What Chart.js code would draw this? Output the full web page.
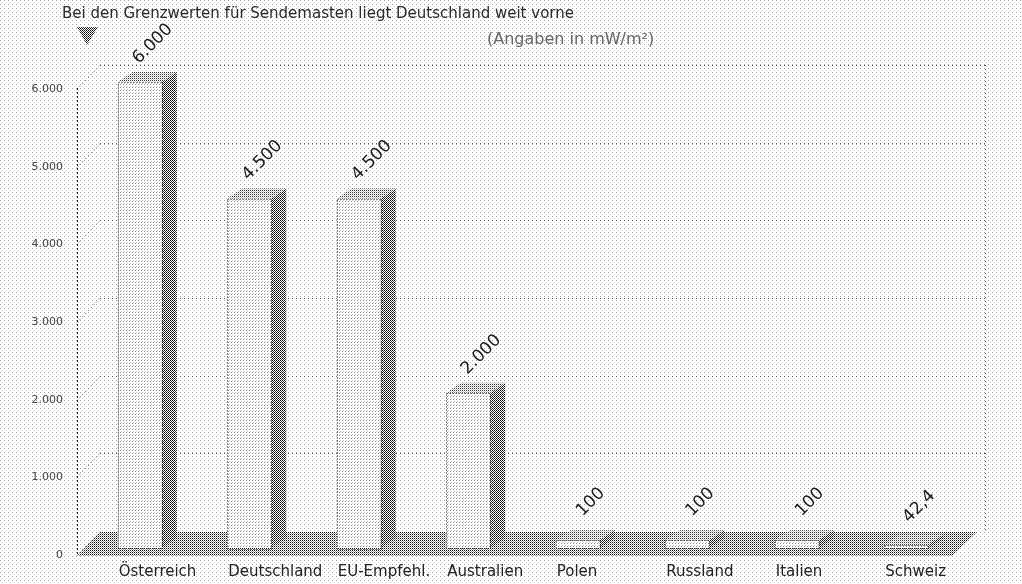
<!DOCTYPE html>
<html>
<head>
<meta charset="utf-8">
<script src="https://cdn.jsdelivr.net/npm/chart.js@4"></script>
<style>
  html, body { margin: 0; padding: 0; background: #fff; }
  canvas { display: block; }
</style>
</head>
<body>
<canvas id="chart" width="1022" height="584"></canvas>
<script>
const categories = ['Österreich', 'Deutschland', 'EU-Empfehl.', 'Australien', 'Polen', 'Russland', 'Italien', 'Schweiz'];
const limits = [6000, 4500, 4500, 2000, 100, 100, 100, 42.4];
const valueLabels = ['6.000', '4.500', '4.500', '2.000', '100', '100', '100', '42,4'];
const yTickLabels = ['0', '1.000', '2.000', '3.000', '4.000', '5.000', '6.000'];
const chartTitle = 'Bei den Grenzwerten für Sendemasten liegt Deutschland weit vorne';
const unitNote = '(Angaben in mW/m²)';

const canvas = document.getElementById('chart');
const mainCtx = canvas.getContext('2d');

// small halftone tiles, to mimic the dithered print look
function makePattern(size, bg, dots) {
  const c = document.createElement('canvas');
  c.width = size; c.height = size;
  const g = c.getContext('2d');
  g.fillStyle = bg;
  g.fillRect(0, 0, size, size);
  dots.forEach(([x, y, col]) => { g.fillStyle = col; g.fillRect(x, y, 1, 1); });
  return mainCtx.createPattern(c, 'repeat');
}

const pats = {
  paper: makePattern(4, '#ffffff', [[0, 0, '#a0a0a0'], [2, 2, '#d0d0d0']]),
  front: makePattern(3, '#ffffff', [[0, 0, '#8a8a8a'], [1, 2, '#c4c4c4']]),
  side: makePattern(2, '#ffffff', [[0, 0, '#000'], [1, 1, '#3a3a3a']]),
  cap: makePattern(2, '#ffffff', [[0, 0, '#333'], [1, 1, '#c8c8c8']]),
  floor: makePattern(2, '#ffffff', [[0, 0, '#111'], [1, 1, '#9a9a9a']])
};

const DX = 15, DY = 10;

const pseudo3d = {
  id: 'pseudo3d',
  beforeDraw(chart) {
    const { ctx, width, height } = chart;
    ctx.save();
    ctx.fillStyle = pats.paper;
    ctx.fillRect(0, 0, width, height);
    ctx.textBaseline = 'middle';
    ctx.textAlign = 'left';
    ctx.fillStyle = '#2a2a2a';
    ctx.font = '15px "DejaVu Sans"';
    ctx.fillText(chartTitle, 62, 14);
    ctx.fillStyle = '#666';
    ctx.font = '16px "DejaVu Sans"';
    ctx.fillText(unitNote, 487, 40);
    // little logo triangle
    ctx.fillStyle = pats.side;
    ctx.beginPath();
    ctx.moveTo(77, 27); ctx.lineTo(98, 27); ctx.lineTo(87, 45);
    ctx.closePath();
    ctx.fill();
    ctx.restore();
  },
  beforeDatasetsDraw(chart) {
    const { ctx, scales: { y } } = chart;
    const axisX = 77, wallX = 100, wallRight = 985, back = 17;
    const y0 = y.getPixelForValue(0);
    const yTop = y.getPixelForValue(6000);
    ctx.save();
    ctx.strokeStyle = '#555';
    ctx.lineWidth = 1;
    ctx.setLineDash([1, 3]);
    y.ticks.forEach(t => {
      const py = Math.round(y.getPixelForValue(t.value)) + 0.5;
      if (t.value > 0) {
        ctx.beginPath(); ctx.moveTo(wallX, py - back); ctx.lineTo(wallRight, py - back); ctx.stroke();
      }
      ctx.beginPath(); ctx.moveTo(axisX, py + 7); ctx.lineTo(wallX, py - back); ctx.stroke();
    });
    ctx.beginPath();
    ctx.moveTo(wallRight + 0.5, yTop - back);
    ctx.lineTo(wallRight + 0.5, y0 - back);
    ctx.stroke();

    // floor band
    ctx.fillStyle = pats.floor;
    ctx.beginPath();
    ctx.moveTo(axisX, y0 + 8);
    ctx.lineTo(wallX, y0 - back + 1);
    ctx.lineTo(977, y0 - back + 1);
    ctx.lineTo(952, y0 + 8);
    ctx.closePath();
    ctx.fill();

    // y axis
    ctx.strokeStyle = '#222';
    ctx.setLineDash([2, 2]);
    ctx.beginPath();
    ctx.moveTo(axisX + 0.5, yTop + 6);
    ctx.lineTo(axisX + 0.5, y0 + 8);
    ctx.stroke();
    ctx.restore();
  },
  afterDatasetsDraw(chart) {
    const { ctx } = chart;
    const meta = chart.getDatasetMeta(0);
    ctx.save();
    meta.data.forEach((bar, i) => {
      const { x, y, base, width } = bar.getProps(['x', 'y', 'base', 'width'], true);
      const l = x - width / 2, r = x + width / 2;
      ctx.setLineDash([]);
      ctx.fillStyle = pats.front;
      ctx.fillRect(l, y, width, base - y);
      ctx.fillStyle = pats.side;
      ctx.beginPath();
      ctx.moveTo(r, y); ctx.lineTo(r + DX, y - DY); ctx.lineTo(r + DX, base - DY); ctx.lineTo(r, base);
      ctx.closePath(); ctx.fill();
      ctx.fillStyle = pats.cap;
      ctx.beginPath();
      ctx.moveTo(l, y); ctx.lineTo(l + DX, y - DY); ctx.lineTo(r + DX, y - DY); ctx.lineTo(r, y);
      ctx.closePath(); ctx.fill();
      ctx.strokeStyle = '#111';
      ctx.lineWidth = 1;
      ctx.setLineDash([1, 2]);
      ctx.strokeRect(Math.round(l) + 0.5, Math.round(y) + 0.5, Math.round(width), Math.round(base - y));
      ctx.setLineDash([]);
      ctx.save();
      ctx.translate(x + 13, y - 38);
      ctx.rotate(-Math.PI / 4);
      ctx.fillStyle = '#1a1a1a';
      ctx.font = '17px "DejaVu Sans"';
      ctx.textAlign = 'center';
      ctx.textBaseline = 'middle';
      ctx.fillText(valueLabels[i], 0, 0);
      ctx.restore();
    });
    ctx.restore();
  }
};

new Chart(mainCtx, {
  type: 'bar',
  data: {
    labels: categories,
    datasets: [{
      data: limits,
      backgroundColor: 'rgba(0,0,0,0)',
      borderWidth: 0,
      barThickness: 44
    }]
  },
  options: {
    responsive: false,
    animation: false,
    devicePixelRatio: 1,
    layout: { padding: { left: 0, right: 61, top: 82, bottom: 0 } },
    plugins: { legend: { display: false }, tooltip: { enabled: false } },
    scales: {
      x: {
        grid: { display: false, drawTicks: false },
        border: { display: false },
        ticks: {
          color: '#222',
          font: { family: 'DejaVu Sans', size: 15 },
          align: 'start',
          labelOffset: -21,
          padding: 15,
          maxRotation: 0,
          autoSkip: false
        },
        afterFit(s) { s.height = 36; }
      },
      y: {
        min: 0,
        max: 6000,
        grid: { display: false, drawTicks: false },
        border: { display: false },
        ticks: {
          stepSize: 1000,
          color: '#444',
          font: { family: 'DejaVu Sans', size: 11 },
          padding: 22,
          labelOffset: 7,
          callback: (v, i) => yTickLabels[i]
        },
        afterFit(s) { s.width = 85; }
      }
    }
  },
  plugins: [pseudo3d]
});
</script>
</body>
</html>
